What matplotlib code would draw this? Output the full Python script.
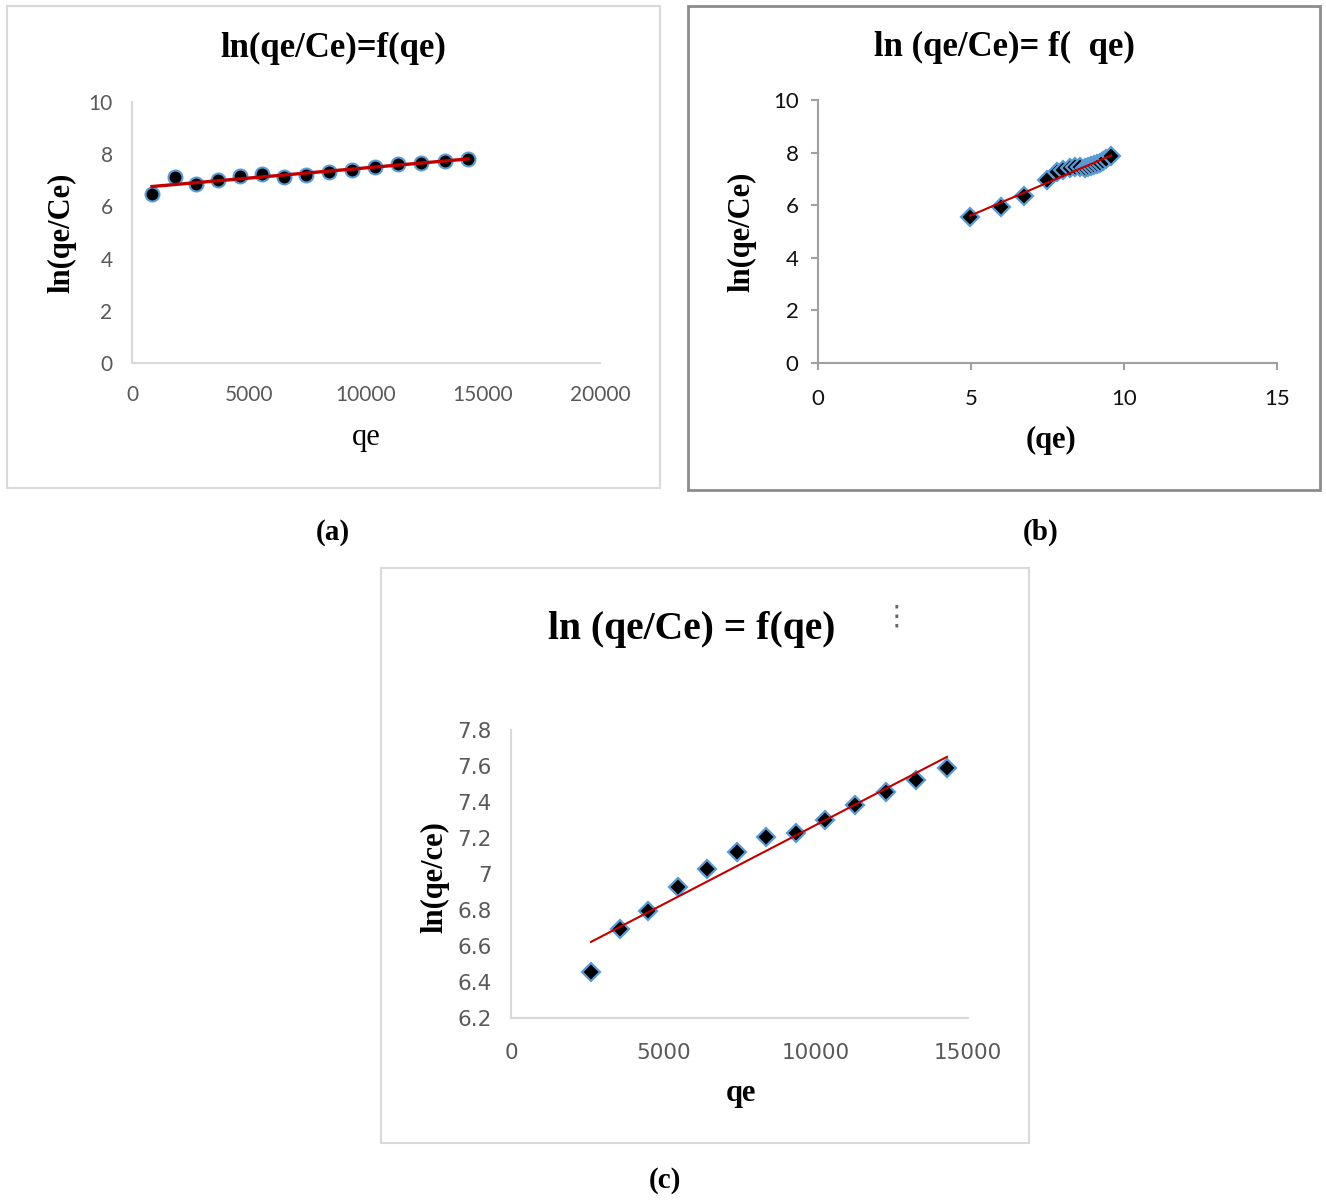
import numpy as np
import matplotlib.pyplot as plt
from matplotlib.patches import Rectangle

# (a) ln(qe/Ce) vs qe, full range
qe_a = [855, 1838, 2735, 3675, 4615, 5556, 6496, 7436, 8419, 9402,
        10385, 11368, 12350, 13376, 14359]
lnq_a = [6.47, 7.13, 6.86, 7.01, 7.16, 7.24, 7.13, 7.20, 7.32, 7.39,
         7.50, 7.62, 7.66, 7.74, 7.82]

# (b) ln(qe/Ce) vs qe, small scale
qe_b = [4.97, 5.98, 6.74, 7.47, 7.80, 8.02, 8.24, 8.40, 8.56, 8.73,
        8.82, 8.92, 9.02, 9.12, 9.22, 9.31, 9.41, 9.58]
lnq_b = [5.55, 5.93, 6.35, 6.96, 7.26, 7.34, 7.40, 7.45, 7.45, 7.41,
         7.45, 7.49, 7.53, 7.57, 7.60, 7.68, 7.76, 7.87]

# (c) ln(qe/ce) vs qe
qe_c = [2626, 3578, 4497, 5481, 6433, 7418, 8370, 9354, 10306, 11291,
        12309, 13293, 14311]
lnq_c = [6.456, 6.694, 6.794, 6.928, 7.028, 7.122, 7.206, 7.228, 7.300,
         7.383, 7.456, 7.522, 7.589]

W, H = 1326, 1200
fig = plt.figure(figsize=(W / 100, H / 100), dpi=100)
SERIF = 'Liberation Serif'
RED = '#c00000'
EDGE = '#5b9bd5'


def box(x0, y0, x1, y1):
    return [x0 / W, 1 - y1 / H, (x1 - x0) / W, (y1 - y0) / H]


def frame(x0, y0, x1, y1, color, lw):
    fig.patches.append(Rectangle((x0 / W, 1 - y1 / H), (x1 - x0) / W, (y1 - y0) / H,
                                 transform=fig.transFigure, fill=False,
                                 edgecolor=color, linewidth=lw))


def ftext(x, y, s, **kw):
    fig.text(x / W, 1 - y / H, s, ha='center', va='center', **kw)


def trend(ax, x, y, lw):
    k, b = np.polyfit(x, y, 1)
    xs = np.array([min(x), max(x)])
    ax.plot(xs, k * xs + b, color=RED, lw=lw, zorder=3)


# panel frames
frame(7, 6, 660, 488, '#d9d9d9', 1.5)
frame(688, 6, 1320, 490, '#8c8c8c', 2)
frame(381, 568, 1029, 1143, '#d9d9d9', 1.5)

# ---- (a)
ax = fig.add_axes(box(132, 102, 600, 363))
ax.plot(qe_a, lnq_a, 'o', ms=10, mfc='black', mec=EDGE, mew=1.5, zorder=2)
trend(ax, qe_a, lnq_a, 2.4)
ax.set_xlim(0, 20000)
ax.set_ylim(0, 10)
ax.set_xticks([0, 5000, 10000, 15000, 20000])
ax.set_yticks([0, 2, 4, 6, 8, 10])
for s in ['top', 'right']:
    ax.spines[s].set_visible(False)
for s in ['left', 'bottom']:
    ax.spines[s].set_color('#d9d9d9')
    ax.spines[s].set_linewidth(1.5)
ax.tick_params(length=0, pad=14, labelsize=15, labelcolor='#595959')
ax.tick_params(axis='x', pad=16)
for t in ax.get_xticklabels() + ax.get_yticklabels():
    t.set_family('Lato')
ftext(333, 48, 'ln(qe/Ce)=f(qe)', family=SERIF, weight='bold', fontsize=25)
ftext(366, 437, 'qe', family=SERIF, fontsize=22)
ftext(62, 233, 'ln(qe/Ce)', family=SERIF, weight='bold', fontsize=22, rotation=90)

# ---- (b)
ax = fig.add_axes(box(818, 100, 1277, 363))
ax.plot(qe_b, lnq_b, 'D', ms=9.5, mfc='black', mec=EDGE, mew=1.6, zorder=2)
trend(ax, qe_b, lnq_b, 1.5)
ax.set_xlim(0, 15)
ax.set_ylim(0, 10)
ax.set_xticks([0, 5, 10, 15])
ax.set_yticks([0, 2, 4, 6, 8, 10])
for s in ['top', 'right']:
    ax.spines[s].set_visible(False)
for s in ['left', 'bottom']:
    ax.spines[s].set_color('#a0a0a0')
    ax.spines[s].set_linewidth(1.5)
ax.tick_params(length=5, width=1.5, color='#a0a0a0', pad=9, labelsize=16,
               labelcolor='#111111')
ax.tick_params(axis='x', pad=14)
for t in ax.get_xticklabels() + ax.get_yticklabels():
    t.set_family('Lato')
ftext(1004, 47, 'ln (qe/Ce)= f(  qe)', family=SERIF, weight='bold', fontsize=25)
ftext(1051, 440, '(qe)', family=SERIF, weight='bold', fontsize=22)
ftext(742, 232, 'ln(qe/Ce)', family=SERIF, weight='bold', fontsize=22, rotation=90)

# ---- (c)
ax = fig.add_axes(box(511, 730, 968, 1018))
ax.plot(qe_c, lnq_c, 'D', ms=9.5, mfc='black', mec=EDGE, mew=1.6, zorder=2)
trend(ax, qe_c, lnq_c, 1.5)
ax.set_xlim(0, 15000)
ax.set_ylim(6.2, 7.8)
ax.set_xticks([0, 5000, 10000, 15000])
ax.set_yticks([6.2, 6.4, 6.6, 6.8, 7.0, 7.2, 7.4, 7.6, 7.8])
ax.set_yticklabels(['6.2', '6.4', '6.6', '6.8', '7', '7.2', '7.4', '7.6', '7.8'])
for s in ['top', 'right']:
    ax.spines[s].set_visible(False)
for s in ['left', 'bottom']:
    ax.spines[s].set_color('#d9d9d9')
    ax.spines[s].set_linewidth(1.5)
ax.tick_params(length=0, pad=14, labelsize=15.5, labelcolor='#595959')
ax.tick_params(axis='x', pad=18)
ftext(692, 630, 'ln (qe/Ce) = f(qe)', family=SERIF, weight='bold', fontsize=28.5)
ftext(896, 617, '\u22ee', color='#666666', fontsize=20)
ftext(741, 1093, 'qe', family=SERIF, weight='bold', fontsize=22)
ftext(435, 877, 'ln(qe/ce)', family=SERIF, weight='bold', fontsize=22, rotation=90)

# panel letters
ftext(333, 532, '(a)', family=SERIF, weight='bold', fontsize=21)
ftext(1041, 532, '(b)', family=SERIF, weight='bold', fontsize=21)
ftext(665, 1181, '(c)', family=SERIF, weight='bold', fontsize=21)

fig.savefig('out.png', dpi=100, facecolor='white')
